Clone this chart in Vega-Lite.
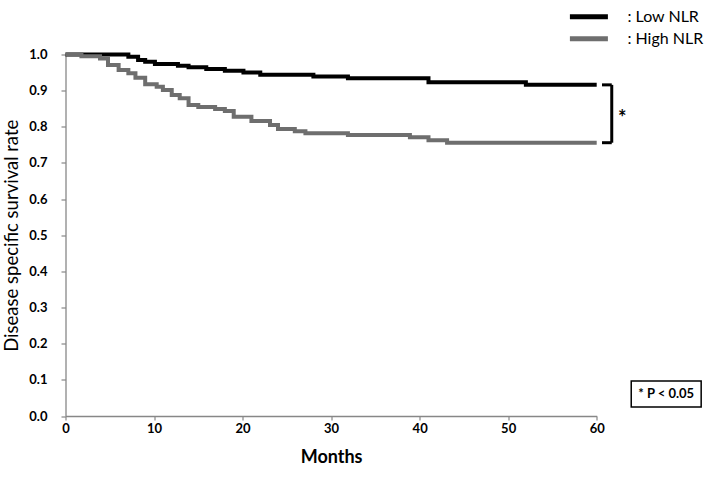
{
  "$schema": "https://vega.github.io/schema/vega-lite/v6.json",
  "width": 531.2,
  "height": 361.5,
  "autosize": {"type": "none"},
  "padding": {"left": 65.5, "top": 54.5, "right": 112.3, "bottom": 62},
  "background": "white",
  "config": {
    "view": {"stroke": null},
    "font": "Lato",
    "axis": {
      "grid": false,
      "domainColor": "#878787",
      "domainWidth": 1.3,
      "tickColor": "#878787",
      "tickWidth": 1.2,
      "labelFont": "Lato",
      "labelFontSize": 13,
      "labelFontWeight": "bold",
      "labelColor": "#000000",
      "titleFont": "Lato",
      "titleColor": "#000000",
      "titleFontSize": 17
    }
  },
  "datasets": {
    "curves": [
      {"group": "Low NLR", "month": 0, "surv": 1.0},
      {"group": "Low NLR", "month": 7.1, "surv": 0.994},
      {"group": "Low NLR", "month": 8.2, "surv": 0.985},
      {"group": "Low NLR", "month": 9.0, "surv": 0.980},
      {"group": "Low NLR", "month": 10.1, "surv": 0.974},
      {"group": "Low NLR", "month": 12.7, "surv": 0.969},
      {"group": "Low NLR", "month": 13.9, "surv": 0.965},
      {"group": "Low NLR", "month": 15.9, "surv": 0.960},
      {"group": "Low NLR", "month": 18.0, "surv": 0.955},
      {"group": "Low NLR", "month": 20.1, "surv": 0.950},
      {"group": "Low NLR", "month": 22.0, "surv": 0.944},
      {"group": "Low NLR", "month": 28.0, "surv": 0.939},
      {"group": "Low NLR", "month": 31.9, "surv": 0.934},
      {"group": "Low NLR", "month": 41.0, "surv": 0.923},
      {"group": "Low NLR", "month": 52.0, "surv": 0.916},
      {"group": "Low NLR", "month": 60, "surv": 0.916},
      {"group": "High NLR", "month": 0, "surv": 1.0},
      {"group": "High NLR", "month": 1.8, "surv": 0.995},
      {"group": "High NLR", "month": 3.9, "surv": 0.989},
      {"group": "High NLR", "month": 4.8, "surv": 0.971},
      {"group": "High NLR", "month": 6.0, "surv": 0.957},
      {"group": "High NLR", "month": 7.1, "surv": 0.948},
      {"group": "High NLR", "month": 7.9, "surv": 0.936},
      {"group": "High NLR", "month": 9.0, "surv": 0.918},
      {"group": "High NLR", "month": 10.3, "surv": 0.911},
      {"group": "High NLR", "month": 11.0, "surv": 0.902},
      {"group": "High NLR", "month": 12.0, "surv": 0.888},
      {"group": "High NLR", "month": 12.9, "surv": 0.879},
      {"group": "High NLR", "month": 13.9, "surv": 0.860},
      {"group": "High NLR", "month": 15.0, "surv": 0.855},
      {"group": "High NLR", "month": 16.9, "surv": 0.849},
      {"group": "High NLR", "month": 18.0, "surv": 0.844},
      {"group": "High NLR", "month": 19.0, "surv": 0.828},
      {"group": "High NLR", "month": 21.0, "surv": 0.816},
      {"group": "High NLR", "month": 23.1, "surv": 0.805},
      {"group": "High NLR", "month": 24.0, "surv": 0.794},
      {"group": "High NLR", "month": 25.9, "surv": 0.788},
      {"group": "High NLR", "month": 27.1, "surv": 0.782},
      {"group": "High NLR", "month": 31.9, "surv": 0.777},
      {"group": "High NLR", "month": 38.9, "surv": 0.771},
      {"group": "High NLR", "month": 41.0, "surv": 0.763},
      {"group": "High NLR", "month": 43.1, "surv": 0.756},
      {"group": "High NLR", "month": 60, "surv": 0.756}
    ],
    "bracket": [
      {"month": 60.6, "month2": 61.7, "surv": 0.916, "surv2": 0.916},
      {"month": 60.6, "month2": 61.7, "surv": 0.756, "surv2": 0.756},
      {"month": 61.7, "month2": 61.7, "surv": 0.916, "surv2": 0.756}
    ],
    "star": [
      {"month": 62.9, "surv": 0.836, "label": "*"}
    ],
    "pbox": [
      {"month": 63.9, "month2": 71.8, "surv": 0.097, "surv2": 0.025}
    ],
    "ptext": [
      {"month": 67.85, "surv": 0.061, "label": "* P < 0.05"}
    ]
  },
  "encoding": {
    "x": {
      "field": "month",
      "type": "quantitative",
      "scale": {"domain": [0, 60], "nice": false, "zero": false},
      "axis": {
        "title": "Months",
        "values": [0, 10, 20, 30, 40, 50, 60],
        "tickSize": 4,
        "labelPadding": 2,
        "labelFlush": false,
        "titleFontWeight": "bold",
        "titleFontSize": 18,
        "titlePadding": 13
      }
    },
    "y": {
      "field": "surv",
      "type": "quantitative",
      "scale": {"domain": [0, 1], "nice": false},
      "axis": {
        "title": "Disease specific survival rate",
        "values": [0, 0.1, 0.2, 0.3, 0.4, 0.5, 0.6, 0.7, 0.8, 0.9, 1.0],
        "format": ".1f",
        "tickSize": 4.5,
        "labelPadding": 14,
        "labelFlush": false,
        "titleFontWeight": "normal",
        "titleFontSize": 18.5,
        "titlePadding": 7
      }
    }
  },
  "layer": [
    {
      "data": {"name": "curves"},
      "mark": {"type": "line", "interpolate": "step-after", "strokeWidth": 4, "clip": false},
      "encoding": {
        "color": {
          "field": "group",
          "type": "nominal",
          "scale": {"domain": ["Low NLR", "High NLR"], "range": ["#000000", "#6e6e6e"]},
          "legend": {
            "orient": "none",
            "legendX": 515.4,
            "legendY": -45.8,
            "title": null,
            "symbolType": "M-5,0H5",
            "symbolSize": 57.76,
            "symbolStrokeWidth": 5,
            "labelFont": "Lato",
            "labelFontSize": 16,
            "labelColor": "#000000",
            "labelOffset": 30.5,
            "rowPadding": 2,
            "padding": 0,
            "labelExpr": "': ' + datum.label"
          }
        }
      }
    },
    {
      "data": {"name": "bracket"},
      "mark": {"type": "rule", "strokeWidth": 3, "color": "#000000", "clip": false},
      "encoding": {
        "x2": {"field": "month2"},
        "y2": {"field": "surv2"}
      }
    },
    {
      "data": {"name": "star"},
      "mark": {"type": "text", "fontSize": 20, "fontWeight": "bold", "font": "Lato", "color": "#000000", "baseline": "middle", "align": "center", "dy": 5},
      "encoding": {"text": {"field": "label"}}
    },
    {
      "data": {"name": "pbox"},
      "mark": {"type": "rect", "fill": "#ffffff", "stroke": "#000000", "strokeWidth": 1.5},
      "encoding": {
        "x2": {"field": "month2"},
        "y2": {"field": "surv2"}
      }
    },
    {
      "data": {"name": "ptext"},
      "mark": {"type": "text", "fontSize": 13, "fontWeight": "bold", "font": "Lato", "color": "#000000", "baseline": "middle", "align": "center"},
      "encoding": {"text": {"field": "label"}}
    }
  ]
}
